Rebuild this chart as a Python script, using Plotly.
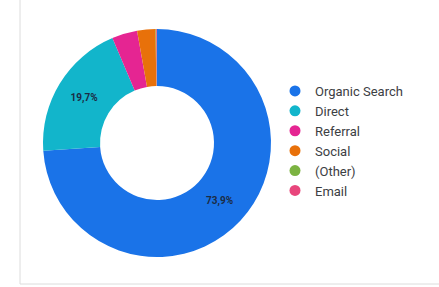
import plotly.graph_objects as go

categories = ["Organic Search", "Direct", "Referral", "Social", "(Other)", "Email"]
values = [73.9, 19.7, 3.6, 2.6, 0.1, 0.1]
colors = ["#1a73e8", "#12b5cb", "#e52592", "#e8710a", "#7cb342", "#e8467c"]
show_label = [True, True, False, False, False, False]

fig = go.Figure()
fig.add_trace(go.Pie(
    labels=categories, values=values, sort=False, direction="clockwise",
    hole=0.5, marker=dict(colors=colors, line=dict(width=0)),
    texttemplate=["%{percent:.1%}" if s else "" for s in show_label],
    textposition="inside", insidetextorientation="horizontal",
    textfont=dict(family="Roboto", size=10, color="#1c2c45", weight="bold"),
    domain=dict(x=[43/439, 271/439], y=[(287-257)/287, (287-29)/287]),
    showlegend=False, hoverinfo="label+percent",
))
for c, col in zip(categories, colors):
    fig.add_trace(go.Scatter(x=[None], y=[None], mode="markers", name=c,
                             marker=dict(symbol="circle", size=11, color=col)))

fig.add_shape(type="rect", xref="paper", yref="paper",
              x0=20/439, x1=1.05, y0=3/287, y1=1.05,
              line=dict(color="#dcdcdc", width=1), fillcolor="rgba(0,0,0,0)")

fig.update_layout(
    width=439, height=287, margin=dict(l=0, r=0, t=0, b=0),
    paper_bgcolor="white", plot_bgcolor="white", separators=",.",
    xaxis=dict(visible=False), yaxis=dict(visible=False),
    legend=dict(x=275/439, y=1-76/287, xanchor="left", yanchor="top",
                font=dict(family="Roboto", size=13, color="#3c4043"),
                itemwidth=30, tracegroupgap=0, bgcolor="rgba(0,0,0,0)"),
)
fig.write_html("out.html", config={"displayModeBar": False},
               post_script="document.body.style.margin='0';")
